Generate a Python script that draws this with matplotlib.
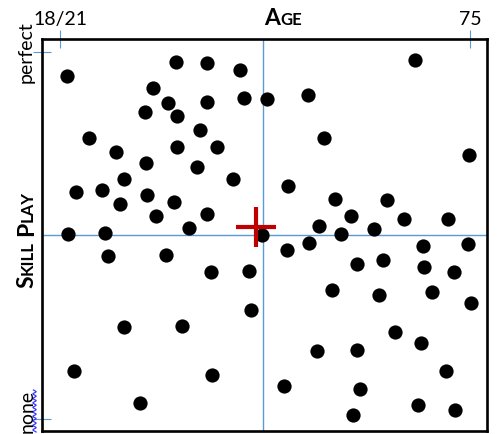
import numpy as np
import matplotlib
matplotlib.use('Agg')
import matplotlib.pyplot as plt
from matplotlib.lines import Line2D

plt.rcParams['font.family'] = ['Lato', 'DejaVu Sans']

# age (0 = 18/21, 100 = 75) and skill play (0 = none, 100 = perfect)
age = [1.6, 28.2, 35.8, 43.9, 22.7, 26.3, 35.8, 44.9, 20.7, 28.5,
       34.1, 7.1, 13.6, 28.5, 38.3, 21.0, 33.4, 15.5, 42.2, 3.8,
       10.2, 21.2, 14.6, 27.8, 23.3, 35.8, 31.5, 1.9, 11.0, 49.3,
       86.6, 50.4, 60.5, 64.4, 99.8, 55.6, 67.1, 79.7, 70.9, 63.1,
       83.9, 94.7, 76.5, 68.5,
       55.3, 60.8, 88.5, 99.6, 72.5, 78.7, 88.8, 96.0, 66.3, 77.7,
       90.7, 100.2, 81.7, 88.1, 62.8, 72.5, 94.1, 54.6, 73.2, 87.2,
       96.3, 71.5,
       11.6, 25.9, 36.8, 46.2, 46.5, 15.5, 29.8, 3.5, 37.0, 19.4]
skill = [93.5, 97.4, 97.0, 95.2, 90.2, 86.1, 86.5, 87.5, 83.7, 82.6,
         78.8, 76.6, 72.8, 74.1, 74.1, 69.8, 68.7, 65.4, 65.4, 61.9,
         62.5, 61.0, 58.6, 59.2, 55.3, 55.9, 52.0, 50.5, 50.8, 50.0,
         97.7, 87.2, 88.3, 76.6, 71.9, 63.6, 59.9, 59.6, 55.2, 52.6,
         54.5, 54.5, 51.8, 50.5,
         46.1, 48.0, 47.2, 47.7, 42.2, 43.2, 41.3, 40.0, 35.1, 33.8,
         34.5, 31.6, 23.6, 20.7, 18.4, 18.9, 13.0, 9.1, 8.3, 3.9,
         2.5, 1.1,
         44.3, 44.7, 40.0, 40.3, 29.8, 25.1, 25.4, 13.0, 12.0, 4.4]

center_age, center_skill = 47.8, 52.3
mid_age, mid_skill = 49.5, 50.0
tick_pos = [0, 100]
age_labels = ['18/21', '75']
skill_labels = ['none', 'perfect']

W, H = 498, 435
fig = plt.figure(figsize=(W / 100, H / 100), dpi=100)
ax = fig.add_axes([42 / W, 3 / H, 445 / W, 392 / H])

blue = '#5B9BD5'
ax.axvline(mid_age, color=blue, lw=1, zorder=1)
ax.axhline(mid_skill, color=blue, lw=1, zorder=1)
ax.scatter(age, skill, s=105, color='black', linewidths=0, zorder=3)
ax.plot(center_age, center_skill, marker='+', ms=29, mew=3, color='#C00000', zorder=4)

ax.set_xlim(-4.39, 104.15)
ax.set_ylim(-3.27, 103.54)
for sp in ax.spines.values():
    sp.set_linewidth(1.9)
    sp.set_color('black')

ax.xaxis.tick_top()
ax.set_xticks(tick_pos, ['', ''])
ax.set_yticks(tick_pos, ['', ''])
ax.tick_params(direction='inout', length=13, width=0.8, color=blue)


def px(x, y):
    return x / W, 1 - y / H


# tick labels
for pos, lab in zip(tick_pos, age_labels):
    xp = ax.transData.transform((pos, 0))[0]
    fig.text(xp / W, 1 - 25 / H, lab, fontsize=14, ha='center', va='baseline')

fig.text(*px(26, 52), skill_labels[1], fontsize=14, rotation=90, ha='center', va='center')
fig.text(*px(27, 411), skill_labels[0], fontsize=14, rotation=90, ha='center', va='center')

# small caps titles
renderer = fig.canvas.get_renderer()


def smallcaps(parts, x, y, rot):
    for s, size in parts:
        if s == ' ':
            if rot == 0:
                x += 5
            else:
                y -= 5
            continue
        t = fig.text(*px(x, y), s, fontsize=size, fontweight='bold', rotation=rot,
                     rotation_mode='anchor', ha='left', va='baseline')
        bb = t.get_window_extent(renderer)
        if rot == 0:
            x += bb.width
        else:
            y -= bb.height


smallcaps([('A', 16.5), ('GE', 12)], 264, 25, 0)
smallcaps([('S', 16.5), ('KILL', 12), (' ', 0), ('P', 16.5), ('LAY', 12)], 33, 288, 90)

# wavy underline next to "none"
yy = np.linspace(391, 433, 200)
xx = 34.5 + 1.6 * np.sin(2 * np.pi * yy / 4.5)
fig.add_artist(Line2D(xx / W, 1 - yy / H, transform=fig.transFigure, color='#3B3BFF', lw=0.9))

fig.savefig('out.png', dpi=100)
